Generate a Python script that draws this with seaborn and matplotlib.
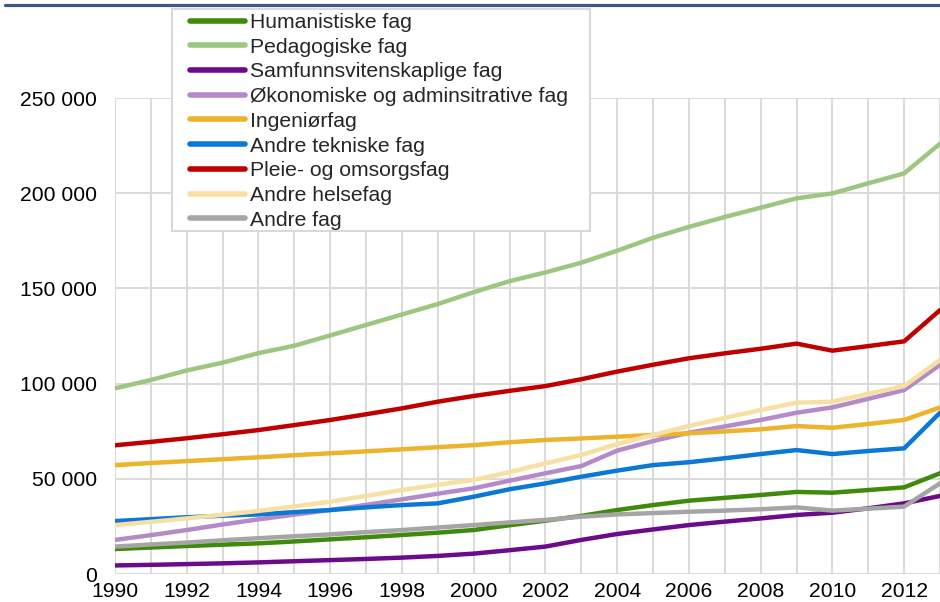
import numpy as np
import pandas as pd
import matplotlib
matplotlib.use("Agg")
import matplotlib.pyplot as plt
import seaborn as sns
from matplotlib.patches import Rectangle
from matplotlib.lines import Line2D
from matplotlib.ticker import MultipleLocator, FuncFormatter

# Years and series values
years = list(range(1990, 2014))

humanistiske = [13100, 13900, 14700, 15400, 16100, 17100, 18200, 19300, 20500, 21700, 23100, 25600,
                28000, 30500, 33600, 36200, 38500, 40000, 41500, 43100, 42700, 44100, 45500, 52900]
pedagogiske = [97500, 101900, 106900, 111000, 116000, 119900, 125300, 130800, 136300, 141800, 148000, 153800,
               158400, 163500, 169800, 176600, 182300, 187500, 192400, 197300, 199900, 205200, 210400, 226000]
samfunn = [4500, 4800, 5200, 5600, 6100, 6700, 7300, 7900, 8600, 9500, 10700, 12500,
           14400, 17900, 21000, 23400, 25700, 27500, 29200, 31000, 32200, 34500, 37100, 41000]
okonomiske = [17900, 20400, 23100, 26000, 28700, 31200, 33600, 36300, 39200, 42200, 45000, 49000,
              52900, 56700, 64800, 69800, 74200, 77500, 80900, 84700, 87500, 92000, 96600, 109800]
ingenior = [57200, 58300, 59300, 60300, 61300, 62400, 63400, 64400, 65500, 66600, 67700, 69200,
            70400, 71200, 72100, 73000, 73900, 74900, 76000, 77700, 76800, 78800, 80900, 87500]
andre_tekniske = [27800, 28800, 29800, 30600, 31300, 32500, 33600, 35000, 36200, 37100, 40600, 44500,
                  47600, 51100, 54300, 57200, 58700, 60800, 63000, 65100, 63000, 64600, 66000, 84700]
pleie = [67600, 69400, 71300, 73400, 75600, 78200, 80900, 83900, 87000, 90500, 93500, 96200,
         98700, 102300, 106300, 109900, 113300, 115900, 118300, 121000, 117300, 119700, 122200, 138600]
andre_helse = [25700, 27400, 29200, 31100, 33100, 35500, 38000, 41000, 44100, 46900, 49400, 53500,
               58100, 62500, 68300, 73000, 77700, 82000, 86100, 90000, 90500, 94600, 98700, 112400]
andre_fag = [14400, 15500, 16500, 17700, 18800, 19800, 20800, 22000, 23100, 24400, 25700, 27100,
             28400, 30100, 31300, 32000, 32700, 33300, 34000, 35000, 33300, 34300, 35400, 47600]

series_names = ["Humanistiske fag", "Pedagogiske fag", "Samfunnsvitenskaplige fag",
                "Økonomiske og adminsitrative fag", "Ingeniørfag", "Andre tekniske fag",
                "Pleie- og omsorgsfag", "Andre helsefag", "Andre fag"]
series_values = [humanistiske, pedagogiske, samfunn, okonomiske, ingenior,
                 andre_tekniske, pleie, andre_helse, andre_fag]
colors = ["#3F8A0A", "#9DC680", "#6B0A8A", "#B48AC8", "#EDB32A",
          "#0C78D6", "#C00000", "#F8DFA2", "#A5A5A5"]

df = pd.DataFrame({
    "År": np.tile(years, len(series_names)),
    "Antall": np.concatenate(series_values),
    "Fag": np.repeat(series_names, len(years)),
})

sns.set_theme(style="white")
plt.rcParams["font.family"] = ["Liberation Sans", "DejaVu Sans"]

fig = plt.figure(figsize=(9.4, 6.02), dpi=100)
ax = fig.add_axes([115 / 940, 1 - 574 / 602, 1 - 115 / 940, (574 - 98) / 602])

sns.lineplot(data=df, x="År", y="Antall", hue="Fag", hue_order=series_names,
             palette=colors, linewidth=3.2, ax=ax, legend=True)
handles, labels = ax.get_legend_handles_labels()
ax.get_legend().remove()

ax.set_xlim(1990, 2013)
ax.set_ylim(0, 250000)
ax.xaxis.set_major_locator(MultipleLocator(2))
ax.xaxis.set_minor_locator(MultipleLocator(1))
ax.yaxis.set_major_locator(MultipleLocator(50000))
ax.yaxis.set_major_formatter(FuncFormatter(lambda v, p: f"{v:,.0f}".replace(",", " ")))
ax.grid(True, which="both", color="#D9D9D9", linewidth=1.4)
ax.set_axisbelow(True)
for s in ax.spines.values():
    s.set_visible(False)
ax.tick_params(axis="both", which="both", length=0, labelsize=15.2, colors="black")
ax.tick_params(axis="y", pad=13)
ax.tick_params(axis="x", pad=6)
ax.set_xlabel("")
ax.set_ylabel("")

# Top bar
fig.add_artist(Line2D([5 / 940, 1], [1 - 4.5 / 602, 1 - 4.5 / 602], transform=fig.transFigure,
                      color="#3E5586", linewidth=2.3))

# Legend box
box = Rectangle((172 / 940, 1 - 231 / 602), (590 - 172) / 940, (231 - 9) / 602,
                transform=fig.transFigure, facecolor="white", edgecolor="#D9D9D9",
                linewidth=1.5, zorder=3)
fig.add_artist(box)
for h in handles:
    h.set_linewidth(4)
fig.legend(handles, labels, loc="upper left", bbox_to_anchor=(190 / 940, 1 - 13 / 602),
           frameon=False, borderpad=0, borderaxespad=0, handlelength=2.6,
           handletextpad=0.25, labelspacing=0.27, fontsize=15.2)

fig.savefig("out.png", dpi=100)
